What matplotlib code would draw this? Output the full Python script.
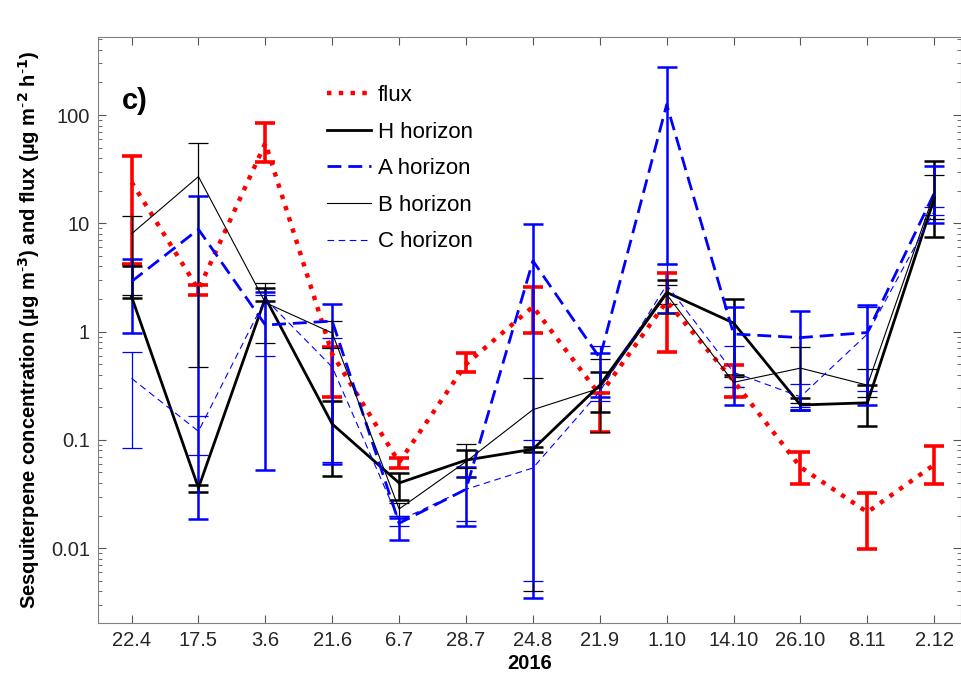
import numpy as np
import matplotlib
matplotlib.use("Agg")
import matplotlib.pyplot as plt
from matplotlib.lines import Line2D
from matplotlib.ticker import LogLocator, NullFormatter

plt.rcParams['font.family'] = ['Liberation Sans', 'DejaVu Sans']
plt.rcParams['mathtext.default'] = 'bf'

dates = ['22.4', '17.5', '3.6', '21.6', '6.7', '28.7', '24.8',
         '21.9', '1.10', '14.10', '26.10', '8.11', '2.12']

# flux (µg m-2 h-1)
flux_mean = [24, 2.45, 55, 0.62, 0.062, 0.5, 1.7, 0.26, 1.9, 0.35, 0.056, 0.0215, 0.059]
flux_lo   = [4.2, 2.2, 37, 0.25, 0.055, 0.42, 0.97, 0.118, 0.65, 0.25, 0.039, 0.0099, 0.039]
flux_hi   = [42, 2.7, 85, 0.72, 0.068, 0.63, 2.6, 0.27, 3.5, 0.49, 0.077, 0.032, 0.088]

# H horizon
h_mean = [2.1, 0.036, 2.05, 0.14, 0.04, 0.065, 0.082, 0.32, 2.3, 1.2, 0.21, 0.22, 17]
h_lo   = [2.05, 0.033, 1.9, 0.046, 0.028, 0.045, 0.078, 0.18, 1.5, 0.4, 0.19, 0.135, 7.5]
h_hi   = [4.0, 0.038, 2.5, 0.23, 0.049, 0.08, 0.086, 0.42, 3.0, 2.0, 0.245, 0.32, 38]

# A horizon
a_mean = [2.9, 8.8, 1.15, 1.25, 0.017, 0.035, 4.5, 0.57, 125, 0.95, 0.88, 0.98, 19]
a_lo   = [0.97, 0.0186, 0.053, 0.06, 0.012, 0.016, 0.0035, 0.25, 4.2, 0.21, 0.19, 0.21, 10]
a_hi   = [4.7, 18, 2.3, 1.8, 0.019, 0.056, 9.8, 0.63, 280, 1.7, 1.55, 1.75, 34]

# B horizon
b_mean = [8, 27, 1.85, 0.97, 0.023, 0.063, 0.19, 0.3, 2.2, 0.34, 0.46, 0.32, 19]
b_lo   = [2.2, 0.47, 0.78, 0.7, 0.02, 0.055, 0.004, 0.118, 1.8, 0.31, 0.22, 0.25, 11]
b_hi   = [11.7, 55, 2.8, 1.24, 0.026, 0.092, 0.37, 0.56, 2.7, 0.38, 0.72, 0.45, 28]

# C horizon
c_mean = [0.37, 0.12, 2.0, 0.47, 0.018, 0.035, 0.055, 0.28, 2.7, 0.42, 0.25, 0.95, 13]
c_lo   = [0.084, 0.073, 0.6, 0.063, 0.016, 0.018, 0.005, 0.23, 1.5, 0.31, 0.2, 0.28, 12]
c_hi   = [0.65, 0.165, 2.2, 0.88, 0.02, 0.045, 0.1, 0.74, 4.2, 0.74, 0.33, 1.7, 14]

x = np.arange(1, len(dates) + 1)

fig = plt.figure(figsize=(9.62, 6.86), dpi=100)
ax = fig.add_axes([0.102, 0.092, 0.897, 0.854])

handles = []
def eb(mean, lo, hi, color, ls, lw, elw, label, dashes=None):
    mean = np.array(mean); lo = np.array(lo); hi = np.array(hi)
    err = [mean - lo, hi - mean]
    c = ax.errorbar(x, mean, yerr=err, color=color, ls=ls, lw=lw,
                    elinewidth=elw, capsize=7, capthick=elw)
    h = Line2D([], [], color=color, ls=ls, lw=lw)
    if dashes is not None:
        c[0].set_dashes(dashes)
        h.set_dashes(dashes)
    handles.append((h, label))

eb(flux_mean, flux_lo, flux_hi, '#ff0000', ':', 3.2, 2.6, 'flux')
eb(h_mean, h_lo, h_hi, 'black', '-', 2.0, 1.8, 'H horizon')
eb(a_mean, a_lo, a_hi, '#0000ff', '--', 2.0, 1.8, 'A horizon', dashes=(5, 2.5))
eb(b_mean, b_lo, b_hi, 'black', '-', 0.8, 0.9, 'B horizon')
eb(c_mean, c_lo, c_hi, '#0000ff', '--', 0.8, 0.9, 'C horizon', dashes=(6, 4))

ax.set_yscale('log')
ax.set_ylim(10 ** -2.69, 10 ** 2.72)
ax.set_xlim(0.5, 13.4)
ax.set_xticks(x)
ax.set_xticklabels(dates)
ax.set_yticks([0.01, 0.1, 1, 10, 100])
ax.set_yticklabels(['0.01', '0.1', '1', '10', '100'])
ax.yaxis.set_minor_locator(LogLocator(base=10, subs=np.arange(2, 10), numticks=20))
ax.yaxis.set_minor_formatter(NullFormatter())

ax.tick_params(axis='both', which='both', direction='in', top=True, right=True,
               colors='#555555', labelcolor='#262626', labelsize=14.5)
ax.tick_params(axis='both', which='major', length=6, pad=6)
ax.tick_params(axis='both', which='minor', length=3)
for s in ax.spines.values():
    s.set_color('#808080')
    s.set_linewidth(0.8)

ax.set_xlabel('2016', fontsize=14.5, fontweight='bold', labelpad=3)
ax.set_ylabel('Sesquiterpene concentration (µg m$^{\\text{-}3}$) and flux (µg m$^{\\text{-}2}$ h$^{\\text{-}1}$)',
              fontsize=14.5, fontweight='bold', labelpad=6)

ax.text(0.028, 0.89, 'c)', transform=ax.transAxes, fontsize=21, fontweight='bold',
        va='center', ha='left')

leg = ax.legend([h for h, _ in handles], [l for _, l in handles],
                loc='upper left', bbox_to_anchor=(0.242, 0.952), frameon=False,
                fontsize=16, handlelength=2.0, handletextpad=0.3, labelspacing=0.7)

fig.savefig('out.png', dpi=100)
